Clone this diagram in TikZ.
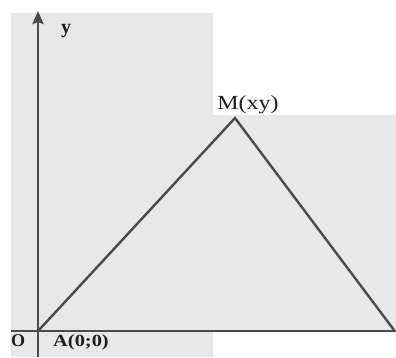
\documentclass[tikz,border=0pt]{standalone}
\usepackage{fontspec}
\setmainfont{Liberation Serif}
\usetikzlibrary{arrows.meta}
\definecolor{paper}{HTML}{E8E8E8}
\definecolor{ink}{HTML}{4A4A4A}
\definecolor{txt}{HTML}{1E1E1E}
\begin{document}
\begin{tikzpicture}[x=1pt,y=-1pt,
  axis/.style={draw=ink,line width=2.8pt},
  side/.style={draw=ink,line width=2.4pt,line join=miter},
  lbl/.style={text=txt,inner sep=0pt,font=\fontsize{20}{20}\selectfont}]
\useasboundingbox (0,0) rectangle (396,357);
\fill[white] (0,0) rectangle (396,357);
\fill[paper] (11,13) -- (213,13) -- (213,115) -- (396,115) -- (396,332) -- (213,332) -- (213,357) -- (11,357) -- cycle;
% axes
\coordinate (ybot) at (38,357);
\coordinate (ytop) at (38,11);
\coordinate (xl) at (11,331);
\coordinate (xr) at (396,331);
\draw[axis,-{Stealth[length=13pt,width=11pt,inset=2pt]}] (ybot) -- (ytop);
\draw[axis,line width=2.6pt] (xl) -- (xr);
% triangle
\coordinate (A) at (39,330);
\coordinate (M) at (235,118);
\coordinate (B) at (394,330);
\draw[side] (A) -- (M) -- (B);
% labels
\node[lbl,font=\fontsize{20}{20}\selectfont\bfseries] (ylab) at (66,31) {y};
\node[lbl,xscale=1.2] (mlab) at (248,105) {M(xy)};
\node[lbl,font=\fontsize{18}{18}\selectfont\bfseries] (olab) at (18,341) {O};
\node[lbl,font=\fontsize{17}{17}\selectfont\bfseries,xscale=1.2] (alab) at (81,342) {A(0;0)};
\end{tikzpicture}
\end{document}
